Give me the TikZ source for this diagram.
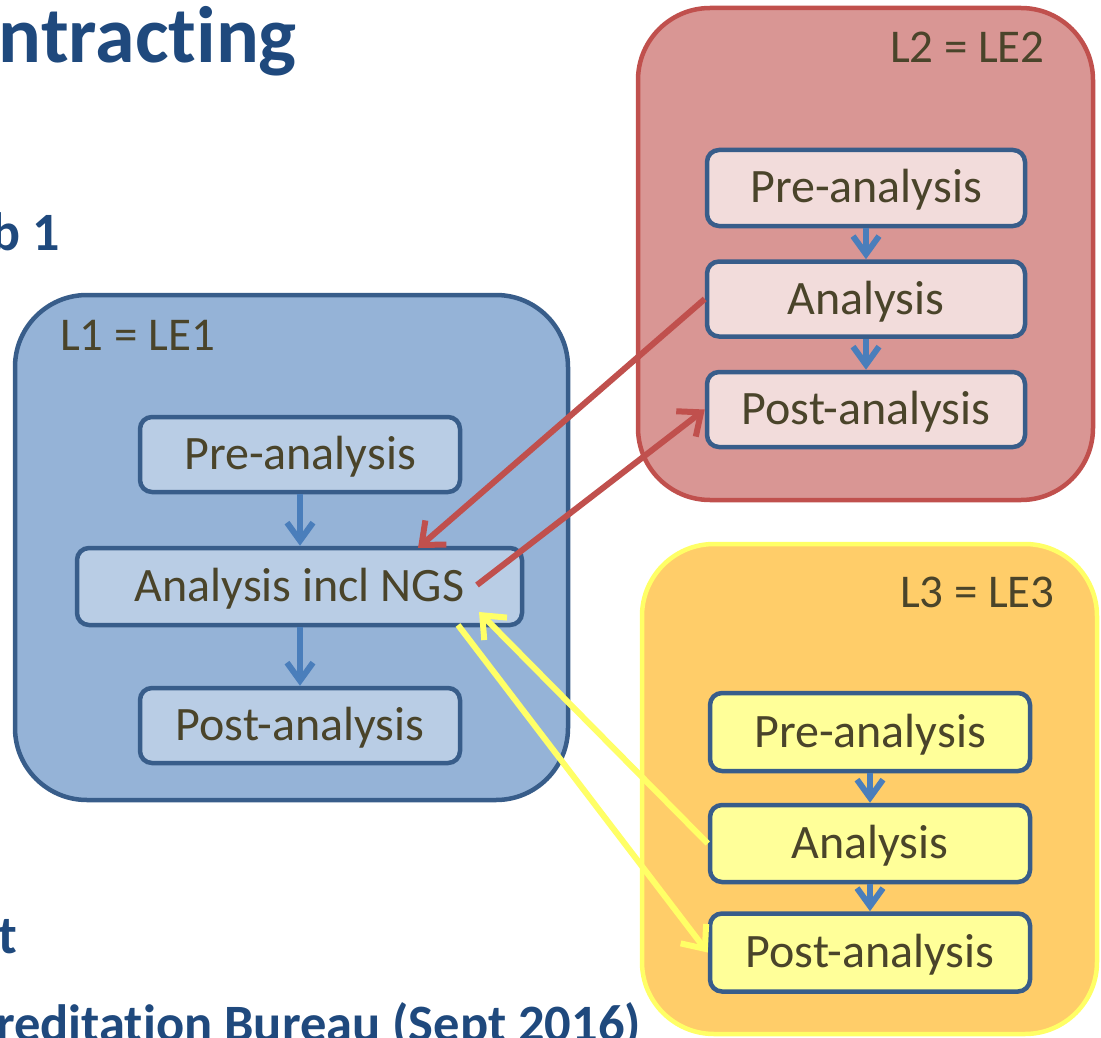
\documentclass[tikz,border=0pt]{standalone}
\usepackage{fontspec}
\setmainfont{Carlito}[Ligatures=NoCommon]
\usetikzlibrary{arrows.meta}
\definecolor{titleblue}{RGB}{31,73,125}
\definecolor{txt}{RGB}{74,68,42}
\definecolor{boxline}{RGB}{56,93,138}
\definecolor{bluefill}{RGB}{149,179,215}
\definecolor{blueinner}{RGB}{185,205,229}
\definecolor{redfill}{RGB}{217,150,148}
\definecolor{redline}{RGB}{192,80,77}
\definecolor{redinner}{RGB}{242,220,219}
\definecolor{yelfill}{RGB}{255,205,105}
\definecolor{yelline}{RGB}{255,255,102}
\definecolor{yelinner}{RGB}{255,255,153}
\definecolor{flowblue}{RGB}{74,126,187}
\tikzset{
  bigbox/.style={line width=4.5pt, rounded corners=72pt, inner sep=0pt},
  stepbox/.style={draw=boxline, line width=4.5pt, rounded corners=12pt, text=txt,
    font=\fontsize{48}{58}\selectfont, inner sep=0pt, text height=35pt, text depth=5pt},
  lelabel/.style={text=txt, font=\fontsize{47}{56}\selectfont, inner sep=0pt},
  heading/.style={text=titleblue, font=\bfseries\fontsize{54}{64}\selectfont, inner sep=0pt},
  flow/.style={draw=flowblue, line width=6pt, -{Straight Barb[length=18pt,width=26pt]}},
  redlink/.style={draw=redline, line width=6pt, -{Straight Barb[length=19pt,width=32pt]}},
  yellink/.style={draw=yelline, line width=6pt, -{Straight Barb[length=19pt,width=32pt]}}
}
\begin{document}
\begin{tikzpicture}[x=1pt,y=-1pt]
\useasboundingbox (0,0) rectangle (1101,1038);

% headings (cut at the page edge)
\node[heading, font=\bfseries\fontsize{80}{96}\selectfont, anchor=base east] (title) at (297,63) {ntracting};
\node[heading, anchor=base east] (sub1) at (60,250) {b 1};
\node[heading, anchor=base east] (sub2) at (17,953) {t};
\node[heading, font=\bfseries\fontsize{52.5}{62}\selectfont, anchor=base east] (sub3) at (641,1041) {reditation Bureau (Sept 2016)};

% containers
\node[bigbox, draw=boxline, fill=bluefill, minimum width=553pt, minimum height=505pt] (L1) at (291.5,547.5) {};
\node[bigbox, draw=redline, fill=redfill, minimum width=455pt, minimum height=492pt] (L2) at (865.5,254) {};
\node[bigbox, draw=yelline, fill=yelfill, minimum width=455pt, minimum height=490pt] (L3) at (869.5,789) {};

\node[lelabel, anchor=base west] (lab1) at (60,350) {L1 = LE1};
\node[lelabel, anchor=base east] (lab2) at (1045,63) {L2 = LE2};
\node[lelabel, anchor=base east] (lab3) at (1055,607) {L3 = LE3};

% L1 steps
\node[stepbox, fill=blueinner, minimum width=320pt, minimum height=75pt] (l1pre) at (300,454.5) {Pre-analysis};
\node[stepbox, fill=blueinner, minimum width=445pt, minimum height=77pt] (ngs) at (299.5,586.5) {Analysis incl NGS};
\node[stepbox, fill=blueinner, minimum width=320pt, minimum height=75pt] (l1post) at (300,725.5) {Post-analysis};

% L2 steps
\node[stepbox, fill=redinner, minimum width=318pt, minimum height=76pt] (l2pre) at (866,188) {Pre-analysis};
\node[stepbox, fill=redinner, minimum width=318pt, minimum height=75pt] (l2ana) at (866,299) {Analysis};
\node[stepbox, fill=redinner, minimum width=318pt, minimum height=75pt] (l2post) at (866,409.5) {Post-analysis};

% L3 steps
\node[stepbox, fill=yelinner, minimum width=320pt, minimum height=78pt] (l3pre) at (870,732) {Pre-analysis};
\node[stepbox, fill=yelinner, minimum width=320pt, minimum height=77pt] (l3ana) at (870,843.5) {Analysis};
\node[stepbox, fill=yelinner, minimum width=320pt, minimum height=78pt] (l3post) at (870,952.5) {Post-analysis};

% flow arrows
\draw[flow] (l1pre.south) -- (l1pre.south |- ngs.north);
\draw[flow] (ngs.south -| l1post.north) -- (l1post.north);
\draw[flow] (l2pre.south) -- (l2ana.north);
\draw[flow] (l2ana.south) -- (l2post.north);
\draw[flow] (l3pre.south) -- (l3ana.north);
\draw[flow] (l3ana.south) -- (l3post.north);

% links between labs
\coordinate (ngsin) at (418,548);
\coordinate (ngsout) at (477,585);
\coordinate (ngsyin) at (479,612);
\coordinate (ngsyout) at (458,625);
\draw[redlink] (l2ana.west) -- (ngsin);
\draw[redlink] (ngsout) -- (l2post.west);
\draw[yellink] (l3ana.west) -- (ngsyin);
\draw[yellink] (ngsyout) -- (l3post.west);
\end{tikzpicture}
\end{document}
